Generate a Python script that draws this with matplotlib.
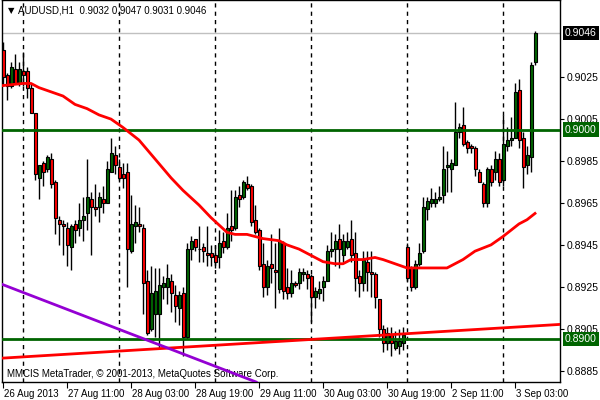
import numpy as np
import matplotlib
matplotlib.use('Agg')
import matplotlib.pyplot as plt
import matplotlib.transforms as mtransforms

plt.rcParams['font.family'] = ['Liberation Sans', 'DejaVu Sans']
plt.rcParams['font.size'] = 7

# hourly AUDUSD candles, 26 Aug 2013 19:00 .. 3 Sep 2013 08:00
opens = [.9038, .9026, .9021, .9029, .9022, .9028, .9028, .9020, .9008, .8977,
         .8984, .8981, .8986, .8975, .8957, .8955, .8953, .8944, .8955, .8953,
         .8957, .8960, .8967, .8963, .8963, .8967, .8965, .8980, .8988, .8982,
         .8979, .8980, .8942, .8954, .8955, .8953, .8928, .8905, .8912, .8912,
         .8925, .8925, .8928, .8921, .8915, .8922, .8901, .8943, .8948, .8943,
         .8944, .8941, .8941, .8940, .8939, .8947, .8944, .8954, .8953, .8969,
         .8968, .8974, .8973, .8957, .8952, .8936, .8925, .8936, .8933, .8924,
         .8946, .8925, .8922, .8927, .8927, .8931, .8931, .8930, .8920, .8922,
         .8925, .8928, .8942, .8943, .8948, .8940, .8944, .8948, .8941, .8930,
         .8927, .8937, .8932, .8931, .8919, .8905, .8898, .8902, .8896, .8897,
         .8898, .8944, .8934, .8925, .8936, .8942, .8962, .8965, .8965, .8967,
         .8969, .8982, .8981, .8983, .8999, .9002, .8994, .8992, .8991, .8980,
         .8974, .8965, .8981, .8980, .8986, .8976, .8992, .8995, .8996, .9019,
         .8996, .8983, .8987, .9032]
highs = [.9042, .9027, .9032, .9036, .9032, .9037, .9030, .9022, .9008, .8983,
         .8985, .8988, .8989, .8976, .8959, .8957, .8956, .8955, .8957, .8965,
         .8968, .8986, .8970, .8974, .8970, .8973, .8985, .8996, .8992, .8986,
         .8984, .8984, .8969, .8964, .8963, .8955, .8933, .8935, .8934, .8934,
         .8930, .8936, .8931, .8926, .8923, .8925, .8946, .8949, .8948, .8954,
         .8946, .8954, .8945, .8945, .8952, .8951, .8960, .8971, .8971, .8973,
         .8976, .8978, .8974, .8964, .8953, .8946, .8938, .8950, .8946, .8953,
         .8947, .8934, .8933, .8928, .8934, .8934, .8933, .8931, .8925, .8928,
         .8930, .8945, .8951, .8950, .8955, .8950, .8951, .8957, .8951, .8933,
         .8942, .8942, .8942, .8932, .8919, .8907, .8906, .8906, .8904, .8905,
         .8906, .8946, .8935, .8938, .8946, .8968, .8968, .8972, .8970, .8973,
         .8992, .8990, .8986, .9013, .9003, .9011, .8995, .8993, .8992, .8981,
         .8975, .8982, .8983, .8990, .8989, .9007, .9001, .9006, .9022, .9024,
         .8999, .8992, .9032, .9047]
lows = [.9021, .9014, .9020, .9022, .9021, .9021, .9015, .9008, .8976, .8967,
        .8973, .8980, .8972, .8950, .8945, .8940, .8935, .8933, .8946, .8949,
        .8947, .8952, .8940, .8959, .8956, .8960, .8965, .8980, .8979, .8976,
        .8972, .8925, .8941, .8946, .8951, .8912, .8902, .8904, .8901, .8896,
        .8919, .8917, .8913, .8908, .8907, .8892, .8900, .8938, .8942, .8937,
        .8937, .8935, .8935, .8934, .8934, .8941, .8943, .8947, .8952, .8963,
        .8967, .8971, .8954, .8950, .8933, .8920, .8921, .8927, .8915, .8922,
        .8919, .8919, .8920, .8925, .8924, .8928, .8924, .8908, .8915, .8919,
        .8918, .8928, .8939, .8935, .8934, .8937, .8943, .8937, .8923, .8920,
        .8923, .8923, .8920, .8915, .8901, .8894, .8895, .8892, .8895, .8893,
        .8895, .8928, .8923, .8924, .8935, .8941, .8957, .8963, .8963, .8966,
        .8965, .8970, .8970, .8983, .8996, .8992, .8989, .8989, .8978, .8975,
        .8963, .8963, .8973, .8976, .8973, .8973, .8990, .8992, .8996, .8991,
        .8972, .8979, .8980, .9031]
closes = [.9025, .9021, .9030, .9022, .9029, .9026, .9020, .9008, .8979, .8983,
          .8980, .8987, .8974, .8958, .8955, .8954, .8945, .8954, .8952, .8957,
          .8959, .8968, .8963, .8962, .8968, .8965, .8981, .8989, .8983, .8977,
          .8977, .8943, .8955, .8956, .8954, .8927, .8903, .8922, .8923, .8926,
          .8927, .8929, .8922, .8916, .8921, .8901, .8943, .8947, .8944, .8943,
          .8942, .8940, .8939, .8937, .8946, .8944, .8953, .8952, .8968, .8967,
          .8975, .8972, .8956, .8951, .8935, .8925, .8935, .8934, .8932, .8947,
          .8923, .8922, .8927, .8926, .8932, .8932, .8929, .8920, .8923, .8924,
          .8928, .8942, .8943, .8947, .8943, .8947, .8947, .8940, .8929, .8927,
          .8938, .8932, .8931, .8920, .8905, .8898, .8903, .8898, .8899, .8899,
          .8902, .8929, .8925, .8936, .8941, .8963, .8966, .8967, .8967, .8968,
          .8981, .8983, .8984, .8999, .9001, .8993, .8991, .8991, .8981, .8975,
          .8965, .8981, .8975, .8986, .8975, .8993, .8995, .8996, .9018, .8995,
          .8982, .8988, .9031, .9046]

# moving average (bar index, value)
ma_idx = [0, 5, 7, 9, 12, 15, 18, 21, 24, 27, 30, 34, 38, 42, 45, 49, 52, 56,
          58, 61, 65, 69, 71, 74, 78, 80, 83, 85, 87, 90, 93, 95, 98, 101, 106,
          111, 115, 118, 122, 125, 129, 131, 133]
ma_val = [.9021, .9022, .9022, .9020, .9018, .9016, .9012, .9010, .9007, .9005,
          .9001, .8995, .8986, .8977, .8971, .8964, .8958, .8951, .8950, .8950,
          .8948, .8947, .8945, .8943, .8939, .8937, .8936, .8936, .8938, .8938,
          .8939, .8938, .8936, .8934, .8934, .8934, .8938, .8942, .8945, .8949,
          .8955, .8957, .8960]

# objects
levels = [0.9000, 0.8900]
red_trend = [(0, 0.8891), (130, 0.8906)]
purple_trend = [(0, 0.8926), (60, 0.8882)]
last_price = 0.9046
day_breaks = [5, 29, 53, 77, 101, 125]
time_ticks = [0, 16, 32, 48, 64, 80, 96, 112, 128]
time_labels = ['26 Aug 2013', '27 Aug 11:00', '28 Aug 03:00', '28 Aug 19:00',
               '29 Aug 11:00', '30 Aug 03:00', '30 Aug 19:00', '2 Sep 11:00',
               '3 Sep 03:00']
price_ticks = [0.8885, 0.8905, 0.8925, 0.8945, 0.8965, 0.8985, 0.9005, 0.9025]

UP = '#006400'
DOWN = '#ff0000'
LEVEL = '#006400'

fig = plt.figure(figsize=(6, 4), dpi=100)
ax = fig.add_axes([2/600, 18/400, 558/600, 382/400])

idx = np.arange(len(opens))
o = np.array(opens)
c = np.array(closes)
colors = [UP if cc >= oo else DOWN for oo, cc in zip(o, c)]

ax.vlines(idx, lows, highs, color='black', lw=1, zorder=2)
ax.bar(idx, c - o, bottom=o, width=0.75, color=colors, edgecolor='black',
       linewidth=0.8, zorder=3)

for b in day_breaks:
    ax.axvline(b, color='black', lw=1, ls=(0, (3, 3)), zorder=1)

ax.axhline(last_price, color='#c0c0c0', lw=1, zorder=1)
for lv in levels:
    ax.axhline(lv, color=LEVEL, lw=2, zorder=4)
ax.plot(ma_idx, ma_val, color='red', lw=2, zorder=5)
ax.axline(red_trend[0], red_trend[1], color='red', lw=2, zorder=4)
ax.axline(purple_trend[0], purple_trend[1], color='#9400d3', lw=2, zorder=4)

ax.set_xlim(-0.25, 139.25)
ax.set_ylim(0.88796, 0.90618)

ax.yaxis.tick_right()
ax.set_yticks(price_ticks)
ax.set_yticklabels(['%.4f' % p for p in price_ticks])
ax.tick_params(axis='y', length=3, pad=2, labelsize=7.5, colors='black')
ax.set_xticks(time_ticks)
ax.set_xticklabels(time_labels)
ax.tick_params(axis='x', length=4, pad=1, labelsize=7)
shift = mtransforms.ScaledTranslation(1/100, 0, fig.dpi_scale_trans)
for lbl in ax.get_xticklabels():
    lbl.set_horizontalalignment('left')
    lbl.set_transform(lbl.get_transform() + shift)
for s in ax.spines.values():
    s.set_color('black')
    s.set_linewidth(1)

# price boxes on the scale
for val, bg in [(last_price, 'black'), (levels[0], LEVEL), (levels[1], LEVEL)]:
    ax.annotate('%.4f' % val, xy=(1, val), xycoords=('axes fraction', 'data'),
                xytext=(5, 0), textcoords='offset pixels', va='center', ha='left',
                color='white', fontsize=7.5, annotation_clip=False,
                bbox=dict(boxstyle='square,pad=0.2', fc=bg, ec='none'))

ax.text(0.010, 0.973, '\u25bc', transform=ax.transAxes, fontsize=6,
        family='DejaVu Sans', va='center', ha='left')
ax.text(0.028, 0.973, 'AUDUSD,H1  %.4f %.4f %.4f %.4f'
        % (opens[-1], highs[-1], lows[-1], closes[-1]),
        transform=ax.transAxes, va='center', ha='left')
ax.text(0.009, 0.022, 'MMCIS MetaTrader, \u00a9 2001-2013, MetaQuotes Software Corp.',
        transform=ax.transAxes, va='center', ha='left')

fig.savefig('out.png', dpi=100, facecolor='white')
